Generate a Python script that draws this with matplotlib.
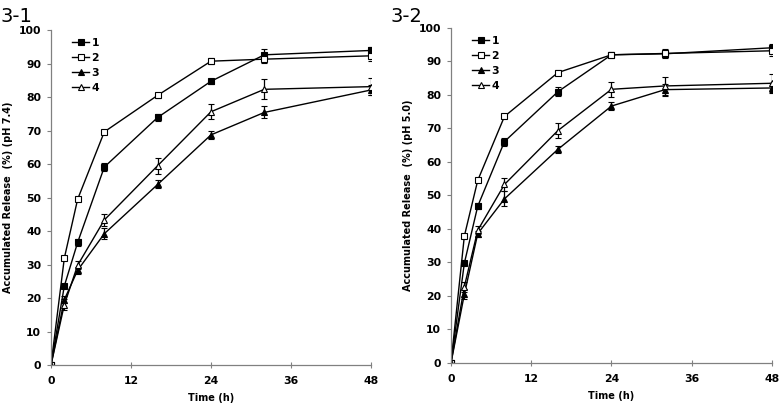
import matplotlib
matplotlib.use('Agg')
import matplotlib.pyplot as plt
from matplotlib.lines import Line2D

plt.rcParams['font.family'] = 'DejaVu Sans'

time_h = [0, 2, 4, 8, 16, 24, 32, 48]
series_names = ['1', '2', '3', '4']

# pH 7.4
ph74_vals = [
    [0, 23.6, 36.6, 59.1, 73.9, 84.7, 92.6, 93.9],
    [0, 31.9, 49.5, 69.6, 80.5, 90.7, 91.3, 92.3],
    [0, 19.5, 28.3, 39.2, 53.9, 68.7, 75.4, 82.1],
    [0, 18.0, 29.8, 43.3, 59.5, 75.6, 82.3, 83.1],
]
ph74_err = [
    [0, 0.6, 1.0, 1.3, 1.0, 0.7, 1.6, 1.1],
    [0, 0.4, 0.4, 0.5, 0.8, 0.8, 1.2, 1.5],
    [0, 1.0, 1.0, 1.6, 1.2, 1.1, 1.8, 1.6],
    [0, 1.6, 1.2, 1.8, 2.4, 2.3, 3.0, 2.6],
]

# pH 5.0
ph50_vals = [
    [0, 29.8, 46.8, 66.1, 81.0, 92.0, 92.3, 94.1],
    [0, 37.9, 54.5, 73.6, 86.7, 92.0, 92.4, 93.2],
    [0, 20.5, 38.6, 49.0, 63.8, 76.7, 81.6, 82.1],
    [0, 22.8, 39.6, 53.3, 69.4, 81.7, 82.7, 83.5],
]
ph50_err = [
    [0, 0.5, 0.9, 1.2, 1.4, 0.6, 1.0, 1.2],
    [0, 0.4, 0.5, 0.5, 0.8, 0.7, 1.4, 1.5],
    [0, 1.5, 0.9, 2.2, 1.0, 1.2, 1.8, 1.6],
    [0, 1.5, 1.2, 2.0, 2.2, 2.3, 2.8, 2.7],
]

markers = ['s', 's', '^', '^']
faces = ['black', 'white', 'black', 'white']

fig = plt.figure(figsize=(7.82, 4.04), dpi=100)
ax1 = fig.add_axes([0.0652, 0.0965, 0.4092, 0.8292])
ax2 = fig.add_axes([0.5767, 0.1015, 0.4105, 0.8292])


def draw_panel(ax, vals, errs, ylabel, title, title_x):
    for i in range(4):
        ax.errorbar(time_h, vals[i], yerr=errs[i], color='black', lw=1.0,
                    marker=markers[i], markersize=4.2, markerfacecolor=faces[i],
                    markeredgecolor='black', markeredgewidth=0.8,
                    ecolor='black', elinewidth=0.9, capsize=2.2, capthick=0.9)
    ax.set_xlim(0, 48)
    ax.set_ylim(0, 100)
    ax.set_xticks([0, 12, 24, 36, 48])
    ax.set_yticks(range(0, 101, 10))
    for s in ['top', 'right']:
        ax.spines[s].set_visible(False)
    for s in ['left', 'bottom']:
        ax.spines[s].set_color('#808080')
        ax.spines[s].set_linewidth(0.9)
    ax.tick_params(axis='both', color='#808080', length=3, width=0.8,
                   labelsize=7.8, pad=4)
    ax.tick_params(axis='x', direction='inout', length=4, pad=6)
    for t in ax.get_xticklabels() + ax.get_yticklabels():
        t.set_fontweight('bold')
    ax.set_xlabel('Time (h)', fontsize=7, fontweight='bold')
    ax.xaxis.set_label_coords(0.5, -0.085)
    ax.set_ylabel(ylabel, fontsize=7, fontweight='bold')
    ax.yaxis.set_label_coords(-0.118, 0.5)
    fig.text(title_x, 0.935, title, fontsize=14, ha='left', va='bottom')

    handles = [Line2D([], [], color='black', lw=1.0, marker=markers[i],
                      markersize=4.0, markerfacecolor=faces[i],
                      markeredgecolor='black', markeredgewidth=0.8)
               for i in range(4)]
    ax.legend(handles, series_names, loc='upper left',
              bbox_to_anchor=(0.035, 1.005), frameon=False,
              handlelength=1.6, handletextpad=0.2, labelspacing=0.45,
              prop={'weight': 'bold', 'size': 7.8})


draw_panel(ax1, ph74_vals, ph74_err, 'Accumulated Release  (%) (pH 7.4)', '3-1', 0.0)
draw_panel(ax2, ph50_vals, ph50_err, 'Accumulated Release  (%) (pH 5.0)', '3-2', 0.499)

fig.savefig('out.png', dpi=100)
